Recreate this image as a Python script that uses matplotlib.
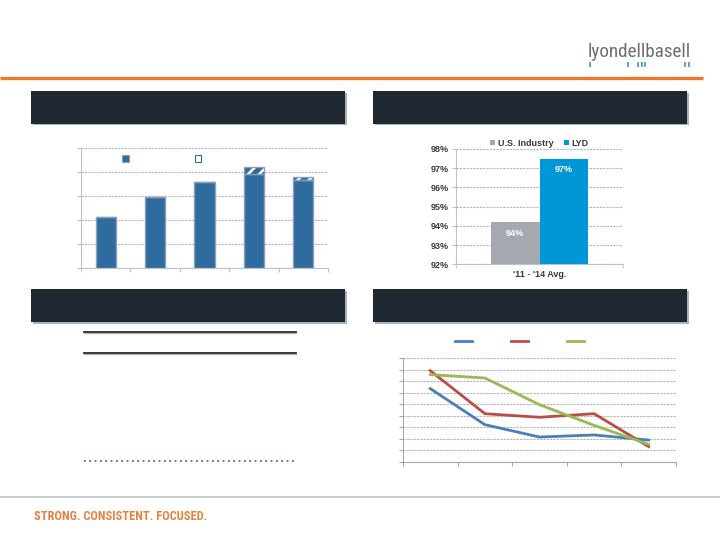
import matplotlib.pyplot as plt
import numpy as np
from matplotlib.patches import Rectangle, Patch
from matplotlib.lines import Line2D

plt.rcParams['hatch.linewidth'] = 1.9

# %% data
# top left: stacked bars (base + hatched increment), five periods
bar_base = [2.14, 2.95, 3.57, 3.90, 3.67]
bar_extra = [0.0, 0.0, 0.0, 0.29, 0.13]

# top right: '11 - '14 average
rel_groups = ['U.S. Industry', 'LYD']
rel_values = [94.2, 97.5]
rel_labels = ['94%', '97%']
rel_colors = ['#A5A8AF', '#0096D8']
rel_category = "'11 - '14 Avg."
rel_ticks = [92, 93, 94, 95, 96, 97, 98]

# bottom right: three declining series
line_blue = [6.35, 3.23, 2.16, 2.34, 1.90]
line_red = [7.90, 4.18, 3.87, 4.18, 1.33]
line_green = [7.56, 7.27, 4.96, 3.17, 1.53]

W, H = 720, 540
fig = plt.figure(figsize=(7.2, 5.4), dpi=100)
narrow = ['Roboto Condensed', 'Liberation Sans Narrow', 'Open Sans Condensed',
          'DejaVu Sans', 'Liberation Sans']


def px_axes(x0, y0, x1, y1):
    return fig.add_axes([x0 / W, 1 - y1 / H, (x1 - x0) / W, (y1 - y0) / H])


def fit_width(txt, target):
    # shrink/grow a text so it spans the same width as in the slide
    fig.canvas.draw()
    w = txt.get_window_extent().width
    txt.set_fontsize(txt.get_fontsize() * target / w)


# %% slide decoration in pixel coordinates
bg = fig.add_axes([0, 0, 1, 1], zorder=0)
bg.set_xlim(0, W)
bg.set_ylim(H, 0)
bg.axis('off')

# logo
logo = bg.text(588, 57, 'lyondellbasell', fontsize=14.5, color='#6D6E71',
               family=narrow, fontstretch='condensed', va='baseline', ha='left')
for xt in [590, 627.5, 638, 641.5, 645, 685, 689]:
    bg.plot([xt, xt], [62, 66.5], color='#2A90CC', lw=1.1, solid_capstyle='butt')

# orange rule
bg.plot([0, 703], [78, 78], color='#E9792F', lw=2.4, solid_capstyle='butt')

# dark headers
for x0, y0, x1, y1 in [(31, 91, 345, 123.5), (373, 91, 687, 123.5),
                       (31, 289, 345, 322), (373, 289, 687, 322)]:
    bg.add_patch(Rectangle((x0 + 1.5, y0 + 1.5), x1 - x0, y1 - y0, color='#A3B4C2', lw=0))
    bg.add_patch(Rectangle((x0, y0), x1 - x0, y1 - y0, color='#1F2730', lw=0))

# bottom-left table rules
for yl in [331.7, 353]:
    bg.plot([84, 296], [yl + 1.2, yl + 1.2], color='#B5B5B5', lw=1.0)
    bg.plot([84, 296], [yl, yl], color='#2B2B2B', lw=1.3)
bg.plot([84, 294], [461, 461], color='#3E5675', lw=1.2, linestyle=(0, (1, 2.2)))

# footer
bg.plot([0, W], [497, 497], color='#C4C4C4', lw=1.2)
footer = bg.text(34, 519.5, 'STRONG. CONSISTENT. FOCUSED.', fontsize=11, color='#E8803F',
                 fontweight='bold', family=narrow, fontstretch='condensed',
                 va='baseline', ha='left')

grid_kw = dict(color='#AEB7C2', linestyle=(0, (2, 1)), linewidth=0.8)

# %% top left bars
ax1 = px_axes(81, 148, 328, 268)
ax1.set_facecolor('none')
xb = np.arange(len(bar_base))
ax1.bar(xb, bar_base, width=0.41, color='#2E6CA0', edgecolor='#8E9FB3', linewidth=1, zorder=3)
ax1.bar(xb, bar_extra, bottom=bar_base, width=0.41, color='#2E6CA0', edgecolor='white',
        hatch='///', linewidth=0, zorder=3)
ax1.bar(xb, bar_extra, bottom=bar_base, width=0.41, fill=False, edgecolor='#8E9FB3',
        linewidth=1, zorder=4)
ax1.set_xlim(-0.5, len(bar_base) - 0.5)
ax1.set_ylim(0, 5)
ax1.set_yticks(range(6))
ax1.set_yticklabels([])
ax1.set_xticks(np.arange(-0.5, len(bar_base), 1))
ax1.set_xticklabels([])
ax1.yaxis.grid(True, **grid_kw)
ax1.set_axisbelow(True)
for s in ['top', 'right']:
    ax1.spines[s].set_visible(False)
for s in ['left', 'bottom']:
    ax1.spines[s].set_color('#B9C3CD')
ax1.tick_params(length=3, color='#B9C3CD')
h1 = [Patch(facecolor='#2E6CA0', edgecolor='#8E9FB3', linewidth=0.8),
      Patch(facecolor='white', edgecolor='#2E6CA0', hatch='/', linewidth=0.8)]
ax1.legend(h1, ['', ''], ncol=2, loc='center left', bbox_to_anchor=(0.168, 0.905),
           frameon=False, fontsize=8, handlelength=0.55, handleheight=0.55,
           handletextpad=0.4, columnspacing=5.6, borderpad=0, borderaxespad=0)

# %% top right bars
ax2 = px_axes(456, 149, 623, 264.3)
ax2.set_facecolor('none')
xr = [-0.145, 0.145]
bars = ax2.bar(xr, [v - 92 for v in rel_values], bottom=92, width=0.29,
               color=rel_colors, label=rel_groups, zorder=3)
for b, lab in zip(bars, rel_labels):
    ax2.annotate(lab, (b.get_x() + b.get_width() / 2, b.get_y() + b.get_height()),
                 xytext=(0, -8), textcoords='offset points', ha='center', va='center',
                 color='white', fontsize=6.5, fontweight='bold', family='Liberation Sans')
ax2.set_xlim(-0.5, 0.5)
ax2.set_ylim(92, 98)
ax2.set_yticks(rel_ticks)
ax2.set_yticklabels([f'{t}%' for t in rel_ticks], fontsize=6.5, fontweight='bold',
                    color='#3A3A3A', family='Liberation Sans')
ax2.set_xticks([0])
ax2.set_xticklabels([rel_category], fontsize=6.5, fontweight='bold', color='#3A3A3A',
                    family='Liberation Sans')
ax2.set_xticks([-0.5, 0.5], minor=True)
ax2.tick_params(axis='x', which='major', length=0, pad=4)
ax2.tick_params(axis='x', which='minor', length=3, color='#B9C3CD')
ax2.tick_params(axis='y', length=3, color='#B9C3CD', pad=2)
ax2.yaxis.grid(True, **grid_kw)
ax2.set_axisbelow(True)
for s in ['top', 'right']:
    ax2.spines[s].set_visible(False)
for s in ['left', 'bottom']:
    ax2.spines[s].set_color('#B9C3CD')
leg2 = ax2.legend(ncol=2, loc='lower center', bbox_to_anchor=(0.5, 1.01), frameon=False,
                  prop={'size': 6.5, 'weight': 'bold', 'family': 'Liberation Sans'},
                  handlelength=0.5, handleheight=0.5, handletextpad=0.3,
                  columnspacing=1.2, borderpad=0, borderaxespad=0)
for t in leg2.get_texts():
    t.set_color('#3A3A3A')

# %% bottom right lines
ax4 = px_axes(403, 358, 676, 462)
ax4.set_facecolor('none')
xl = np.arange(len(line_blue))
ax4.plot(xl, line_blue, color='#4A7EBB', lw=2, zorder=3)
ax4.plot(xl, line_red, color='#BE4B48', lw=2, zorder=3)
ax4.plot(xl, line_green, color='#98B954', lw=2, zorder=3)
ax4.set_xlim(-0.5, len(line_blue) - 0.5)
ax4.set_ylim(0, 9)
ax4.set_yticks(range(10))
ax4.set_yticklabels([])
ax4.set_xticks(np.arange(-0.5, len(line_blue), 1))
ax4.set_xticklabels([])
ax4.yaxis.grid(True, color='#B4B4B4', linestyle=(0, (2, 1)), linewidth=0.8)
ax4.set_axisbelow(True)
for s in ['top', 'right']:
    ax4.spines[s].set_visible(False)
for s in ['left', 'bottom']:
    ax4.spines[s].set_color('#A8A8A8')
ax4.tick_params(length=3, color='#A8A8A8')
h4 = [Line2D([], [], color=c, lw=2) for c in ['#4A7EBB', '#BE4B48', '#98B954']]
ax4.legend(h4, ['', '', ''], ncol=3, loc='center left', bbox_to_anchor=(0.19, 1.154),
           frameon=False, fontsize=8, handlelength=1.55, handletextpad=0.3,
           columnspacing=3.2, borderpad=0, borderaxespad=0)

# make the narrow slide texts span their original widths
fit_width(logo, 103)
fit_width(footer, 171)

fig.savefig('out.png', dpi=100)
